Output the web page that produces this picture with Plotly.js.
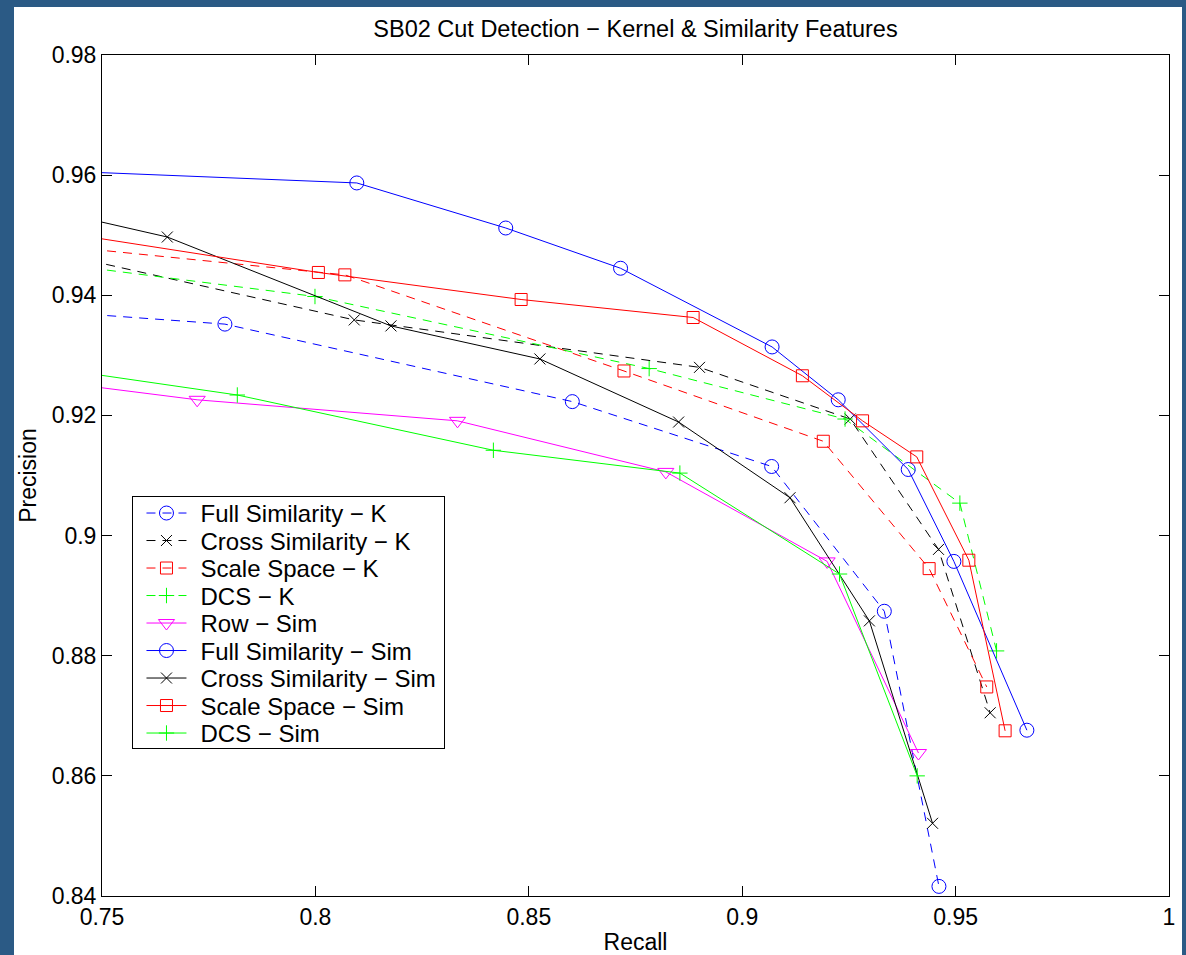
<!DOCTYPE html>
<html>
<head>
<meta charset="utf-8">
<script src="https://cdn.plot.ly/plotly-3.0.1.min.js"></script>
<style>
  html, body { margin: 0; padding: 0; background: #2b5a85; width: 1186px; height: 955px; overflow: hidden; }
  #chart { position: absolute; left: 14px; top: 7px; width: 1168px; height: 948px; background: #ffffff; }
</style>
</head>
<body>
<div id="chart"></div>
<script>
// Series names (legend order)
const seriesNames = [
  "Full Similarity \u2212 K",
  "Cross Similarity \u2212 K",
  "Scale Space \u2212 K",
  "DCS \u2212 K",
  "Row \u2212 Sim",
  "Full Similarity \u2212 Sim",
  "Cross Similarity \u2212 Sim",
  "Scale Space \u2212 Sim",
  "DCS \u2212 Sim"
];

// Recall (x) / Precision (y) values
const fullSimK_x  = [0.74, 0.7788, 0.8602, 0.9069, 0.9333, 0.9461];
const fullSimK_y  = [0.9372, 0.9352, 0.9223, 0.9115, 0.8874, 0.8416];

const crossSimK_x = [0.74, 0.8091, 0.8900, 0.9253, 0.9460, 0.9581];
const crossSimK_y = [0.9469, 0.9359, 0.9280, 0.9194, 0.8977, 0.8705];

const scaleK_x    = [0.74, 0.8069, 0.8723, 0.9190, 0.9438, 0.9573];
const scaleK_y    = [0.9482, 0.9434, 0.9274, 0.9157, 0.8945, 0.8748];

const dcsK_x      = [0.74, 0.7999, 0.8782, 0.9241, 0.9510, 0.9596];
const dcsK_y      = [0.9452, 0.9398, 0.9278, 0.9194, 0.9054, 0.8808];

const rowSim_x    = [0.74, 0.7723, 0.8333, 0.8821, 0.9199, 0.9413];
const rowSim_y    = [0.9255, 0.9226, 0.9191, 0.9106, 0.8957, 0.8638];

const fullSimS_x  = [0.74, 0.8097, 0.8446, 0.8715, 0.9070, 0.9225, 0.9389, 0.9496, 0.9667];
const fullSimS_y  = [0.9607, 0.9587, 0.9512, 0.9445, 0.9314, 0.9226, 0.9110, 0.8957, 0.8676];

const crossSimS_x = [0.74, 0.7653, 0.8177, 0.8526, 0.8851, 0.9112, 0.9298, 0.9446];
const crossSimS_y = [0.9538, 0.9497, 0.9349, 0.9294, 0.9189, 0.9063, 0.8858, 0.8521];

const scaleS_x    = [0.74, 0.8007, 0.8482, 0.8885, 0.9141, 0.9282, 0.9409, 0.9531, 0.9616];
const scaleS_y    = [0.9505, 0.9438, 0.9393, 0.9363, 0.9266, 0.9191, 0.9131, 0.8959, 0.8675];

const dcsS_x      = [0.74, 0.7817, 0.8417, 0.8854, 0.9228, 0.9410];
const dcsS_y      = [0.9277, 0.9234, 0.9142, 0.9104, 0.8936, 0.8600];

const titleText = "SB02 Cut Detection \u2212 Kernel & Similarity Features";
const xTitle = "Recall";
const yTitle = "Precision";

const FONT = "Liberation Sans, Arial, Helvetica, sans-serif";
const DASH = "9px,7px";

function trace(name, x, y, color, symbol, size, dash) {
  return {
    type: "scatter",
    mode: "lines+markers",
    name: name,
    x: x,
    y: y,
    line: { color: color, width: 1, dash: dash },
    marker: { symbol: symbol, size: size, color: color, line: { color: color, width: 1 } },
    cliponaxis: true
  };
}

const data = [
  trace(seriesNames[0], fullSimK_x, fullSimK_y, "#0000ff", "circle-open", 14, DASH),
  trace(seriesNames[1], crossSimK_x, crossSimK_y, "#000000", "x-thin-open", 11, DASH),
  trace(seriesNames[2], scaleK_x, scaleK_y, "#ff0000", "square-open", 12, DASH),
  trace(seriesNames[3], dcsK_x, dcsK_y, "#00ff00", "cross-thin-open", 11, DASH),
  trace(seriesNames[4], rowSim_x, rowSim_y, "#ff00ff", "triangle-down-open", 14, "solid"),
  trace(seriesNames[5], fullSimS_x, fullSimS_y, "#0000ff", "circle-open", 14, "solid"),
  trace(seriesNames[6], crossSimS_x, crossSimS_y, "#000000", "x-thin-open", 11, "solid"),
  trace(seriesNames[7], scaleS_x, scaleS_y, "#ff0000", "square-open", 12, "solid"),
  trace(seriesNames[8], dcsS_x, dcsS_y, "#00ff00", "cross-thin-open", 11, "solid")
];

const layout = {
  width: 1168,
  height: 948,
  paper_bgcolor: "#ffffff",
  plot_bgcolor: "#ffffff",
  margin: { l: 88, r: 13, t: 48, b: 59, pad: 0 },
  font: { family: FONT, size: 23, color: "#000000" },
  title: {
    text: titleText,
    font: { family: FONT, size: 23.5, color: "#000000" },
    x: 0.5, xref: "paper", xanchor: "center",
    y: 1 - 22 / 948, yref: "container", yanchor: "middle"
  },
  xaxis: {
    range: [0.75, 1],
    tick0: 0.75, dtick: 0.05,
    ticks: "inside", ticklen: 10, tickwidth: 1, tickcolor: "#000000",
    showline: true, linecolor: "#000000", linewidth: 1, mirror: "ticks",
    showgrid: false, zeroline: false,
    tickfont: { family: FONT, size: 23, color: "#000000" },
    title: { text: xTitle, font: { family: FONT, size: 23, color: "#000000" }, standoff: 15 },
    automargin: false
  },
  yaxis: {
    range: [0.84, 0.98],
    tick0: 0.84, dtick: 0.02,
    ticks: "inside", ticklen: 10, tickwidth: 1, tickcolor: "#000000",
    showline: true, linecolor: "#000000", linewidth: 1, mirror: "ticks",
    showgrid: false, zeroline: false,
    tickfont: { family: FONT, size: 23, color: "#000000" },
    title: { text: yTitle, font: { family: FONT, size: 23, color: "#000000" }, standoff: 8 },
    automargin: false
  },
  showlegend: true,
  legend: {
    x: 0.0281, y: 0.4756, xanchor: "left", yanchor: "top",
    xref: "paper", yref: "paper",
    bgcolor: "#ffffff", bordercolor: "#000000", borderwidth: 1,
    font: { family: FONT, size: 24, color: "#000000" },
    tracegroupgap: 0,
    itemwidth: 40
  }
};

// Tighten the legend to the compact MATLAB-like layout (rows 27.5px apart)
function parseTranslate(str) {
  const m = /translate\(\s*([-\d.e]+)[ ,]+([-\d.e]+)\s*\)/.exec(str || "");
  return m ? [parseFloat(m[1]), parseFloat(m[2])] : [0, 0];
}

function fixLegend() {
  const root = document.getElementById("chart");
  const leg = root.querySelector("g.legend");
  if (!leg) return;
  leg.querySelectorAll("[clip-path]").forEach(function (el) { el.removeAttribute("clip-path"); });
  const bg = leg.querySelector("rect.bg");
  const legBox = bg.getBoundingClientRect();
  const L = legBox.left, T = legBox.top;
  const ROW = 27.5, FIRST = 16.5;
  const LINE_START = 14, LINE_LEN = 40, MARK_X = 34, TEXT_X = 68;
  const items = leg.querySelectorAll("g.traces");
  items.forEach(function (g, i) {
    const lp = g.querySelector(".legendlines path");
    if (lp) {
      const lb = lp.getBoundingClientRect();
      const cy = lb.top + lb.height / 2;
      const dy = (T + FIRST + ROW * i) - cy;
      const t = parseTranslate(g.getAttribute("transform"));
      g.setAttribute("transform", "translate(" + t[0] + "," + (t[1] + dy) + ")");
      const d = lp.getAttribute("d") || "M5,0h30";
      const m = /M\s*([-\d.e]+)/.exec(d);
      const sx = m ? parseFloat(m[1]) : 5;
      const originX = lb.left - sx;
      lp.setAttribute("d", "M" + (L + LINE_START - originX) + ",0h" + LINE_LEN);
    }
    const pts = g.querySelectorAll(".legendpoints path");
    pts.forEach(function (p) {
      const pb = p.getBoundingClientRect();
      const cx = pb.left + pb.width / 2;
      const t = parseTranslate(p.getAttribute("transform"));
      p.setAttribute("transform", "translate(" + (t[0] + (L + MARK_X - cx)) + "," + t[1] + ")");
    });
    const txt = g.querySelector("text.legendtext");
    if (txt) {
      const tb = txt.getBoundingClientRect();
      const x0 = parseFloat(txt.getAttribute("x") || "0");
      txt.setAttribute("x", x0 + (L + TEXT_X - tb.left));
    }
  });
  bg.setAttribute("width", 312);
  bg.setAttribute("height", 252);
}

Plotly.newPlot("chart", data, layout, { displayModeBar: false, staticPlot: true }).then(fixLegend);
</script>
</body>
</html>
